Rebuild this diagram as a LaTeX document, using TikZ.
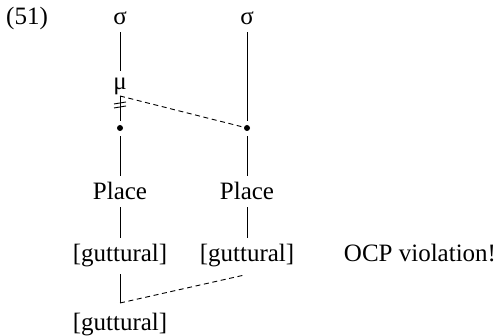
\documentclass[tikz,border=0pt]{standalone}
\usepackage{fontspec}
\setmainfont{Liberation Serif}

\begin{document}
\begin{tikzpicture}[x=0.5pt,y=-0.5pt,
  every node/.style={font=\fontsize{12.5}{15}\selectfont},
  tier/.style={anchor=base},
  slot/.style={circle,fill=black,inner sep=0pt,minimum size=3pt},
  assoc/.style={line width=0.45pt},
  link/.style={line width=0.45pt,dash pattern=on 2.5pt off 1.8pt}]
  \useasboundingbox (0,0) rectangle (498,336);
  % example number
  \node[tier] (num) at (27,25) {(51)};
  % syllables, mora, slots
  \node[tier] (sigL) at (120,25) {σ};
  \node[tier] (sigR) at (247,25) {σ};
  \node[tier] (mu) at (120,90) {μ};
  \node[slot] (dotL) at (120,128) {};
  \node[slot] (dotR) at (247,128) {};
  \coordinate (muL) at (120,96);
  % place and features
  \node[tier] (placeL) at (120,200) {Place};
  \node[tier] (placeR) at (247,200) {Place};
  \node[tier] (gutL) at (120,262) {[guttural]};
  \node[tier] (gutR) at (247,262) {[guttural]};
  \node[tier] (gutM) at (120,330) {[guttural]};
  \node[tier] (ocp) at (420,262) {OCP violation!};
  \coordinate (join) at (120,303);
  % association lines
  \draw[assoc] (sigL) -- (mu);
  \draw[assoc,shorten >=1.7pt] (sigR) -- (dotR);
  \draw[assoc,shorten >=1.7pt] (muL) -- (dotL);
  \foreach \y in {103,107}
    \draw[assoc] (114,\y+1) -- (126,\y-1);
  \draw[link,shorten >=1.2pt] (muL) -- (dotR);
  \draw[assoc,shorten <=2.5pt] (dotL) -- (placeL);
  \draw[assoc,shorten <=2.5pt] (dotR) -- (placeR);
  \draw[assoc] (placeL) -- (gutL);
  \draw[assoc] (placeR) -- (gutR);
  \draw[assoc] (gutL) -- (join);
  \draw[link,shorten >=1.5pt] (join) -- (gutR.south);
\end{tikzpicture}
\end{document}
